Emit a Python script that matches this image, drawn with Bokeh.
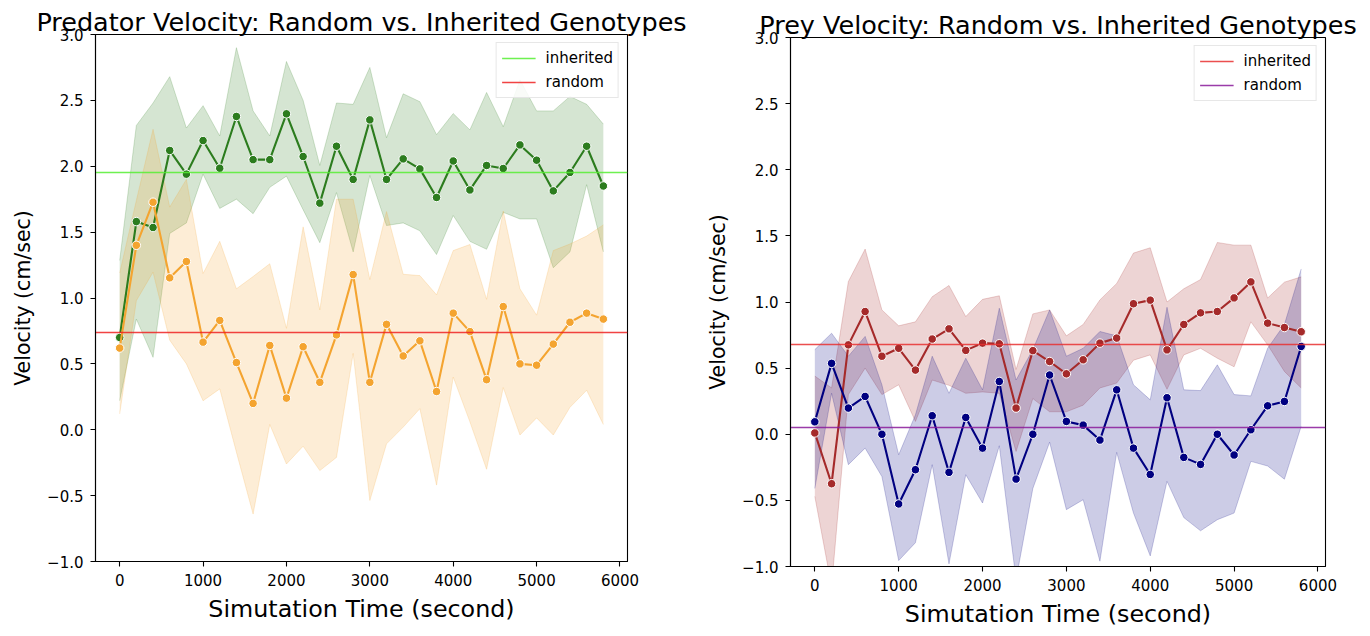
from bokeh.plotting import figure
from bokeh.layouts import row, column
from bokeh.models import FixedTicker, CustomJSTickFormatter, Legend, LegendItem, Spacer
from bokeh.embed import file_html
from bokeh.resources import INLINE

FONT = "DejaVu Sans"

# ---------------- data ----------------
time_s = [0, 200, 400, 600, 800, 1000, 1200, 1400, 1600, 1800,
          2000, 2200, 2400, 2600, 2800, 3000, 3200, 3400, 3600, 3800,
          4000, 4200, 4400, 4600, 4800, 5000, 5200, 5400, 5600, 5800]

# Predator, inherited genotype
pred_inh_mean = [0.70, 1.58, 1.535, 2.12, 1.94, 2.195, 1.985, 2.378, 2.05, 2.05,
                 2.398, 2.074, 1.72, 2.152, 1.90, 2.352, 1.90, 2.056, 1.98, 1.763,
                 2.04, 1.82, 2.006, 1.983, 2.162, 2.046, 1.813, 1.953, 2.152, 1.85]
pred_inh_hi = [1.285, 2.31, 2.48, 2.68, 2.29, 2.46, 2.23, 2.90, 2.42, 2.23,
               2.795, 2.50, 2.006, 2.48, 2.47, 2.75, 2.216, 2.55, 2.49, 2.24,
               2.40, 2.276, 2.56, 2.30, 2.656, 2.42, 2.42, 2.53, 2.47, 2.32]
pred_inh_lo = [0.22, 0.84, 0.55, 1.49, 1.57, 1.94, 1.68, 1.75, 1.64, 1.84,
               1.925, 1.67, 1.42, 1.80, 1.35, 1.93, 1.55, 1.57, 1.51, 1.33,
               1.626, 1.43, 1.37, 1.65, 1.60, 1.60, 1.23, 1.35, 1.86, 1.35]

# Predator, random genotype
pred_rnd_mean = [0.62, 1.40, 1.727, 1.153, 1.277, 0.665, 0.83, 0.51, 0.20, 0.64,
                 0.24, 0.63, 0.36, 0.72, 1.178, 0.36, 0.80, 0.56, 0.675, 0.29,
                 0.885, 0.745, 0.38, 0.935, 0.50, 0.49, 0.65, 0.816, 0.885, 0.84]
pred_rnd_hi = [1.19, 1.74, 2.28, 1.69, 1.90, 1.186, 1.43, 1.07, 1.163, 1.26,
               0.77, 1.54, 0.91, 1.75, 1.75, 1.14, 1.656, 1.18, 1.17, 1.024,
               1.36, 1.406, 0.99, 1.66, 1.07, 0.87, 1.36, 1.41, 1.47, 1.555]
pred_rnd_lo = [0.12, 0.98, 1.196, 0.68, 0.50, 0.22, 0.31, -0.17, -0.64, 0.04,
               -0.26, -0.125, -0.31, -0.21, 0.58, -0.537, -0.107, 0.02, 0.16, -0.42,
               0.40, 0.06, -0.30, 0.32, -0.04, 0.09, -0.04, 0.17, 0.30, 0.04]

# Prey, inherited genotype
prey_inh_mean = [0.01, -0.374, 0.676, 0.928, 0.59, 0.65, 0.485, 0.72, 0.797, 0.634,
                 0.689, 0.684, 0.198, 0.632, 0.55, 0.457, 0.563, 0.689, 0.727, 0.987,
                 1.014, 0.638, 0.83, 0.918, 0.928, 1.031, 1.152, 0.84, 0.807, 0.775]
prey_inh_hi = [0.44, 0.35, 1.155, 1.40, 0.94, 0.82, 0.85, 1.04, 1.125, 0.89,
               1.02, 1.047, 0.49, 0.91, 0.94, 0.744, 0.83, 1.016, 1.14, 1.37,
               1.41, 1.00, 1.10, 1.17, 1.45, 1.43, 1.43, 1.03, 1.15, 1.19]
prey_inh_lo = [-0.47, -1.15, 0.30, 0.50, 0.30, 0.374, 0.097, 0.41, 0.37, 0.31,
               0.32, 0.31, -0.13, 0.27, 0.17, 0.17, 0.22, 0.35, 0.387, 0.56,
               0.60, 0.34, 0.60, 0.65, 0.575, 0.51, 0.85, 0.676, 0.475, 0.35]

# Prey, random genotype
prey_rnd_mean = [0.094, 0.536, 0.198, 0.286, 0.0, -0.527, -0.268, 0.14, -0.288, 0.127,
                 -0.105, 0.399, -0.339, 0.0, 0.448, 0.097, 0.069, -0.044, 0.336, -0.105,
                 -0.304, 0.276, -0.175, -0.228, 0.0, -0.157, 0.034, 0.215, 0.248, 0.664]
prey_rnd_hi = [0.64, 0.764, 0.59, 0.74, 0.374, -0.155, 0.147, 0.59, 0.31, 0.575,
               0.336, 0.953, 0.41, 0.64, 0.94, 0.59, 0.65, 0.777, 0.744, 0.374,
               0.26, 0.96, 0.336, 0.33, 0.525, 0.30, 0.29, 0.65, 0.83, 1.25]
prey_rnd_lo = [-0.41, 0.31, -0.23, -0.105, -0.32, -0.955, -0.82, -0.23, -0.98, -0.306,
               -0.52, -0.087, -1.10, -0.41, -0.06, -0.57, -0.495, -0.96, -0.137, -0.596,
               -0.92, -0.356, -0.63, -0.73, -0.646, -0.596, -0.205, -0.24, -0.34, 0.06]

# overall averages (horizontal reference lines)
pred_inh_avg = 1.953
pred_rnd_avg = 0.735
prey_inh_avg = 0.676
prey_rnd_avg = 0.051

legend_labels = ["inherited", "random"]
x_ticks = [0, 1000, 2000, 3000, 4000, 5000, 6000]
y_ticks = [-1.0, -0.5, 0.0, 0.5, 1.0, 1.5, 2.0, 2.5, 3.0]


def make_plot(title, series, hlines, fw, fh, bl, br, bt, bb, title_standoff):
    p = figure(frame_width=fw, frame_height=fh,
               x_range=(-290, 6090), y_range=(-1.0, 3.0),
               output_backend="svg", toolbar_location=None,
               min_border_left=bl, min_border_right=br,
               min_border_top=bt, min_border_bottom=bb,
               background_fill_color="white", border_fill_color="white")
    p.title.text = title
    p.title.text_font = FONT
    p.title.text_font_size = "25.5px"
    p.title.text_font_style = "normal"
    p.title.text_color = "black"
    p.title.align = "center"
    p.title.standoff = title_standoff
    p.grid.visible = False
    p.outline_line_color = "black"
    p.outline_line_width = 1.1

    for ax in (p.xaxis[0], p.yaxis[0]):
        ax.axis_line_color = "black"
        ax.axis_line_width = 1.1
        ax.major_tick_line_color = "black"
        ax.major_tick_line_width = 1.1
        ax.major_tick_out = 5
        ax.major_tick_in = 0
        ax.minor_tick_line_color = None
        ax.major_label_text_font = FONT
        ax.major_label_text_font_size = "15px"
        ax.major_label_text_color = "black"
        ax.major_label_standoff = 7
        ax.axis_label_text_font = FONT
        ax.axis_label_text_font_style = "normal"
        ax.axis_label_text_color = "black"
    p.xaxis.axis_label_text_font_size = "23.8px"
    p.yaxis.axis_label_text_font_size = "20.5px"
    p.xaxis.ticker = FixedTicker(ticks=x_ticks)
    p.yaxis.ticker = FixedTicker(ticks=y_ticks)
    p.yaxis.formatter = CustomJSTickFormatter(
        code="return tick.toFixed(1).replace('-', '\u2212');")
    p.xaxis.axis_label = "Simutation Time (second)"
    p.yaxis.axis_label = "Velocity (cm/sec)"
    p.xaxis.axis_label_standoff = 6
    p.yaxis.axis_label_standoff = 9

    for mean, lo, hi, color in series:
        p.varea(x=time_s, y1=lo, y2=hi, fill_color=color, fill_alpha=0.2)
        p.line(time_s, hi, line_color=color, line_alpha=0.2, line_width=1)
        p.line(time_s, lo, line_color=color, line_alpha=0.2, line_width=1)
    for mean, lo, hi, color in series:
        p.line(time_s, mean, line_color=color, line_width=2.1)
        p.scatter(time_s, mean, size=8.5, fill_color=color, line_color="white",
                  line_width=1)

    items = []
    for (val, color), lab in zip(hlines, legend_labels):
        r = p.hspan(y=[val], line_color=color, line_width=1.5, line_alpha=0.85)
        items.append(LegendItem(label=lab, renderers=[r]))
    leg = Legend(items=items, location="top_right")
    leg.label_text_font = FONT
    leg.label_text_font_size = "15px"
    leg.label_text_color = "black"
    leg.glyph_width = 34
    leg.glyph_height = 20
    leg.label_height = 20
    leg.label_standoff = 10
    leg.spacing = 4
    leg.padding = 5
    leg.margin = 8
    leg.border_line_color = "#d0d0d0"
    leg.border_line_width = 1
    leg.background_fill_alpha = 0.85
    p.add_layout(leg)
    return p


p1 = make_plot("Predator Velocity: Random vs. Inherited Genotypes",
               [(pred_inh_mean, pred_inh_lo, pred_inh_hi, "#2c7c1e"),
                (pred_rnd_mean, pred_rnd_lo, pred_rnd_hi, "#f4a430")],
               [(pred_inh_avg, "#55ee33"), (pred_rnd_avg, "#ee2222")],
               532, 527, 95, 68, 40, 66, -4)

p2 = make_plot("Prey Velocity: Random vs. Inherited Genotypes",
               [(prey_inh_mean, prey_inh_lo, prey_inh_hi, "#a52a2a"),
                (prey_rnd_mean, prey_rnd_lo, prey_rnd_hi, "#000080")],
               [(prey_inh_avg, "#e83030"), (prey_rnd_avg, "#8a1a9a")],
               535, 529, 95, 40, 40, 60, -5)

right_col = column(Spacer(height=3, width=10), p2, spacing=0)
layout = row(p1, right_col, spacing=0)
layout.styles = {"position": "relative", "top": "-6px"}
open("out.html", "w").write(file_html(layout, INLINE))
